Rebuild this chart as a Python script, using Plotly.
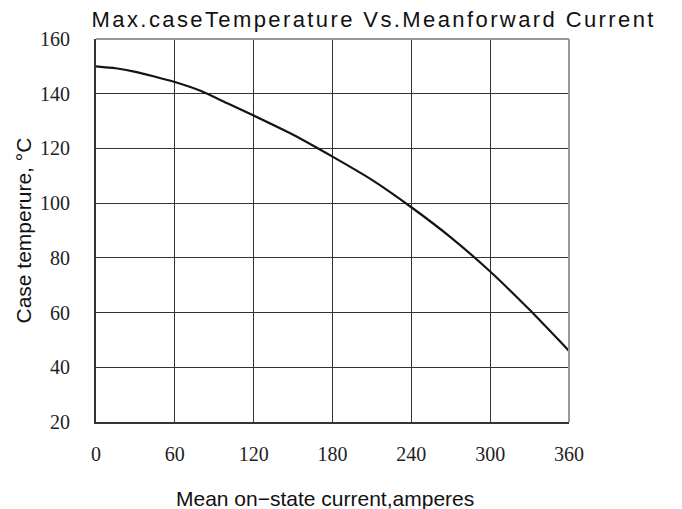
import plotly.graph_objects as go

current = [0, 15, 30, 45, 60, 80, 100, 120, 150, 180, 210, 240, 270, 300, 330, 360]
temperature = [150, 149.3, 148, 146.2, 144.3, 141, 136.5, 132, 125, 117, 108.5, 98.5, 87.5, 75, 61, 46]
x_ticks = [0, 60, 120, 180, 240, 300, 360]
y_ticks = [20, 40, 60, 80, 100, 120, 140, 160]

fig = go.Figure()
fig.add_trace(go.Scatter(x=current, y=temperature, mode="lines",
                         line=dict(color="#1a1212", width=2.2, shape="spline", smoothing=0.6),
                         hoverinfo="skip", showlegend=False))

serif = "Liberation Serif, Times New Roman, serif"
sans = "Liberation Sans, Arial, sans-serif"

fig.update_layout(
    width=682, height=509,
    margin=dict(l=96, r=113, t=39, b=87),
    paper_bgcolor="white", plot_bgcolor="white",
    showlegend=False,
    xaxis=dict(range=[0, 360], tickvals=x_ticks, showgrid=True, gridcolor="#333333", gridwidth=1,
               showline=True, linecolor="#333333", linewidth=2, zeroline=False,
               ticks="outside", ticklen=0, ticklabelstandoff=13,
               tickfont=dict(family=serif, size=20, color="#222222")),
    yaxis=dict(range=[20, 160], tickvals=y_ticks, showgrid=True, gridcolor="#333333", gridwidth=1,
               showline=True, linecolor="#333333", linewidth=2, zeroline=False,
               ticks="outside", ticklen=0, ticklabelstandoff=20,
               tickfont=dict(family=serif, size=20, color="#222222")),
    shapes=[
        dict(type="line", xref="paper", yref="paper", x0=0, x1=1, y0=1, y1=1,
             line=dict(color="#999999", width=2)),
        dict(type="line", xref="paper", yref="paper", x0=1, x1=1, y0=0, y1=1,
             line=dict(color="#999999", width=2)),
    ],
    annotations=[
        dict(text="Max.caseTemperature Vs.Meanforward Current", xref="paper", yref="paper",
             x=(373 - 96) / 473, y=1, yshift=20, showarrow=False, xanchor="center", yanchor="middle",
             font=dict(family=sans, size=22, color="#111111")),
        dict(text="Mean on\u2212state current,amperes", xref="paper", yref="paper",
             x=(325 - 96) / 473, y=0, yshift=-76, showarrow=False, xanchor="center", yanchor="middle",
             font=dict(family=sans, size=21, color="#111111")),
        dict(text="Case temperure, \u00b0C", xref="paper", yref="paper", textangle=-90,
             x=0, xshift=-73, y=0.5, showarrow=False, xanchor="center", yanchor="middle",
             font=dict(family=sans, size=21, color="#111111")),
    ],
)

post = """
document.body.style.margin='0';
document.body.style.overflow='hidden';
document.querySelectorAll('text.annotation-text').forEach(function(t){
  if (t.textContent.indexOf('Max.case') === 0) { t.style.letterSpacing = '2.4px'; }
});
"""

fig.write_html("out.html", config={"displayModeBar": False, "staticPlot": True}, post_script=post)
